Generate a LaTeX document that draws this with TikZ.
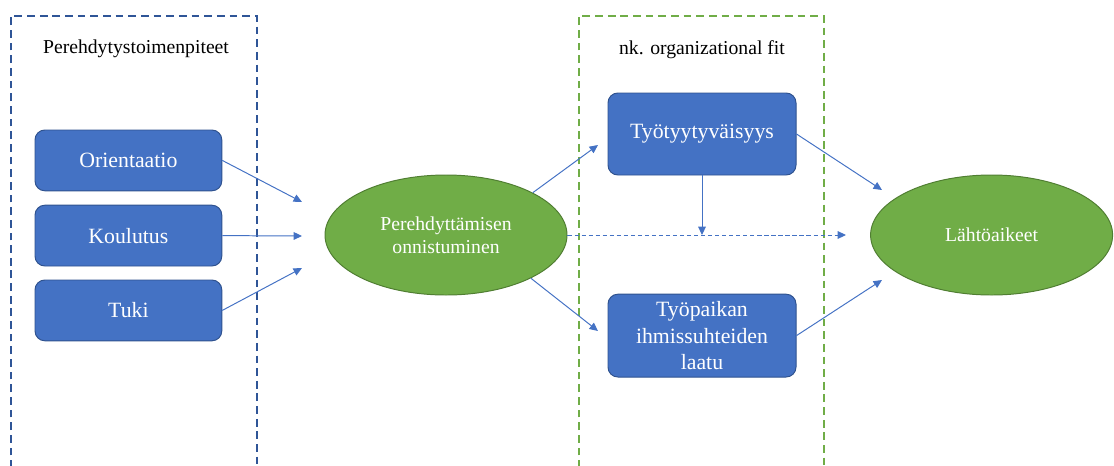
\documentclass[tikz,border=0pt]{standalone}
\usepackage{fontspec}
\setmainfont{Liberation Serif}
\usepackage{tikz}
\usetikzlibrary{positioning,arrows.meta,shapes.geometric}
\usepackage{xcolor}
\definecolor{boxblue}{HTML}{4472C4}
\definecolor{edgeblue}{HTML}{2F528F}
\definecolor{ovalgreen}{HTML}{70AD47}
\definecolor{edgegreen}{HTML}{507E32}
\definecolor{frameblue}{HTML}{2F5597}

\begin{document}
\begin{tikzpicture}[
      >={Triangle[length=6pt,width=5.5pt]},
      factor/.style={draw=edgeblue,fill=boxblue,text=white,rounded corners=7pt,line width=0.7pt,minimum width=4.67cm,minimum height=1.52cm,align=center,inner sep=2pt,font=\fontsize{15.5}{18.8}\selectfont},
      outcome/.style={ellipse,draw=edgegreen,fill=ovalgreen,text=white,line width=0.7pt,minimum width=6.05cm,minimum height=3.0cm,align=center,font=\fontsize{14}{16.5}\selectfont},
      setbox/.style={dash pattern=on 5.5pt off 3.5pt,line width=0.9pt},
      title/.style={font=\fontsize{14}{16.5}\selectfont},
      flow/.style={->,boxblue,line width=0.7pt},
      dflow/.style={flow,dash pattern=on 3pt off 2pt}
    ]
      \useasboundingbox (0,0) rectangle (27.85,-11.625);

      % open-bottomed group frames
      \draw[setbox,frameblue] (0.275,-11.7) |- (6.425,-0.4) -- (6.425,-11.7);
      \draw[setbox,ovalgreen] (14.475,-11.7) |- (20.6,-0.4) -- (20.6,-11.7);
      \node[title] (actions) at (3.4,-1.23) {Perehdytystoimenpiteet};
      \node[title] (fit) at (17.55,-1.23) {nk. organizational fit};

      \node[factor] (orient) at (3.21,-4.01) {Orientaatio};
      \node[factor] (train) at (3.21,-5.89) {Koulutus};
      \node[factor] (support) at (3.21,-7.76) {Tuki};

      \node[outcome] (success) at (11.15,-5.875) {Perehdyttämisen\\onnistuminen};

      \node[factor,minimum width=4.7cm,minimum height=2.05cm] (satisf) at (17.55,-3.35) {Työtyytyväisyys};
      \node[factor,minimum width=4.7cm,minimum height=2.07cm] (relation) at (17.55,-8.39) {Työpaikan\\ihmissuhteiden\\laatu};

      \node[outcome] (leave) at (24.79,-5.875) {Lähtöaikeet};

      \coordinate (in1) at (7.55,-5.05);
      \coordinate (in2) at (7.55,-5.9);
      \coordinate (in3) at (7.55,-6.7);
      \coordinate (up) at (14.95,-3.625);
      \coordinate (down) at (14.95,-8.275);
      \coordinate (mid) at (21.15,-5.875);
      \coordinate (out1) at (22.05,-4.75);
      \coordinate (out2) at (22.05,-7.0);

      \draw[flow] (orient.east) -- (in1);
      \draw[flow] (train.east) -- (in2);
      \draw[flow] (support.east) -- (in3);

      \draw[flow] (success.26) -- (up);
      \draw[flow] (success.-27) -- (down);
      \draw[dflow] (success.east) -- (mid);
      \draw[flow] (satisf.south) -- (satisf.south |- mid);

      \draw[flow] (satisf.east) -- (out1);
      \draw[flow] (relation.east) -- (out2);
    \end{tikzpicture}
\end{document}
